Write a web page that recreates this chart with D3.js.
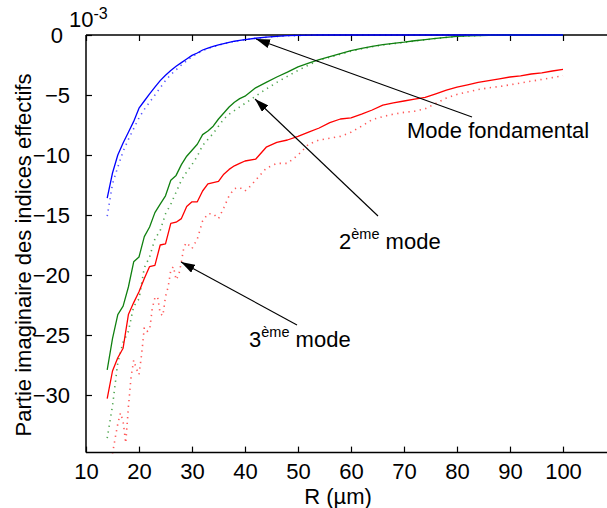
<!DOCTYPE html>
<html>
<head>
<meta charset="utf-8">
<script src="https://cdn.jsdelivr.net/npm/d3@7"></script>
<style>
  html, body { margin: 0; padding: 0; background: #fff; }
  svg { display: block; font-family: "Liberation Sans", Arial, sans-serif; }
</style>
</head>
<body>
<svg id="chart" width="607" height="508"></svg>
<script>
// ---------- DATA ----------
const R = [14,15,16,17,18,19,20,21,22,23,24,25,26,27,28,29,30,31,32,33,34,35,36,37,38,39,40,
           42,44,46,48,50,52,54,56,58,60,62,64,66,68,70,72,74,76,78,80,82,84,86,88,90,92,94,96,98,100];

const mode1Solid = [-13.6,-11.5,-10.0,-9.0,-8.1,-7.2,-6.1,-5.5,-4.9,-4.35,-3.8,-3.35,-2.95,-2.6,-2.3,-2.0,-1.7,-1.5,-1.25,-1.1,-0.95,-0.82,-0.72,-0.62,-0.52,-0.45,-0.38,
                    -0.27,-0.18,-0.11,-0.06,-0.03,-0.01,0,0,0,0,0,0,0,0,0,0,0,0,0,0,0,0,0,0,0,0,0,0,0,0];
const mode1Dotted = [-15.1,-12.4,-11.0,-9.7,-8.7,-7.8,-6.9,-6.2,-5.6,-5.0,-4.4,-3.8,-3.3,-2.9,-2.5,-2.15,-1.8,-1.55,-1.3,-1.13,-0.98,-0.85,-0.73,-0.62,-0.53,-0.46,-0.39,
                     -0.28,-0.19,-0.12,-0.07,-0.04,-0.02,0,0,0,0,0,0,0,0,0,0,0,0,0,0,0,0,0,0,0,0,0,0,0,0];

const mode2Solid = [-27.9,-25.3,-23.3,-22.6,-21.0,-18.9,-18.5,-16.8,-16.0,-14.8,-14.1,-13.4,-12.1,-11.7,-10.8,-10.1,-9.6,-9.1,-8.3,-8.0,-7.6,-7.0,-6.5,-6.0,-5.6,-5.3,-5.1,
                    -4.4,-3.95,-3.5,-3.1,-2.65,-2.35,-2.05,-1.8,-1.55,-1.3,-1.12,-0.95,-0.8,-0.7,-0.6,-0.48,-0.38,-0.28,-0.19,-0.12,-0.07,-0.04,-0.02,-0.01,0,0,0,0,0,0];
const mode2Dotted = [-33.6,-30.9,-27.3,-25.6,-24.7,-22.6,-22.0,-19.4,-18.5,-17.0,-16.3,-14.9,-14.1,-13.1,-12.1,-11.4,-10.8,-10.1,-9.2,-8.7,-8.2,-7.6,-7.0,-6.6,-6.3,-6.0,-5.7,
                     -5.1,-4.5,-3.95,-3.45,-2.95,-2.5,-2.1,-1.85,-1.6,-1.35,-1.15,-0.98,-0.83,-0.72,-0.62,-0.5,-0.4,-0.3,-0.2,-0.13,-0.08,-0.04,-0.02,-0.01,0,0,0,0,0,0];

const mode3Solid = [-30.3,-28.0,-26.9,-26.1,-23.3,-22.3,-21.4,-20.3,-19.3,-19.2,-17.5,-17.4,-15.7,-15.6,-15.3,-14.3,-13.9,-13.9,-13.0,-12.4,-12.3,-12.2,-11.6,-11.2,-10.9,-10.7,-10.5,
                    -10.35,-9.35,-8.95,-8.75,-8.45,-8.1,-7.75,-7.3,-7.0,-6.9,-6.6,-6.25,-5.85,-5.65,-5.5,-5.35,-5.2,-4.9,-4.6,-4.35,-4.15,-3.95,-3.8,-3.65,-3.5,-3.4,-3.25,-3.15,-3.0,-2.86];

const R3Dotted = [15,15.5,16,16.5,17,17.5,18,18.5,19,19.5,20,20.5,21,21.5,22,22.5,23,23.5,24,24.5,25,25.5,26,26.5,27,27.5,28,28.5,29,30,31,32,33,34,35,36,37,38,39,40,41,42,
                  44,46,48,50,52,54,56,58,60,62,64,66,68,70,72,74,76,78,80,82,84,86,88,90,92,94,96,98,100];
const mode3Dotted = [-34.9,-33.6,-32.4,-31.5,-32.2,-34.0,-31.0,-28.5,-27.1,-27.8,-28.3,-26.6,-24.4,-24.7,-24.6,-22.8,-21.9,-21.8,-23.2,-23.4,-21.8,-21.0,-19.6,-19.3,-20.4,-20.0,-18.9,-17.6,-17.3,-17.8,-17.0,-15.5,-14.9,-14.9,-15.3,-14.4,-13.4,-12.8,-12.7,-13.0,-12.6,-12.1,
                     -11.1,-10.7,-10.7,-10.0,-9.1,-8.75,-8.6,-8.45,-8.1,-7.6,-7.05,-6.8,-6.6,-6.45,-6.35,-6.15,-5.7,-5.25,-4.95,-4.75,-4.55,-4.4,-4.3,-4.15,-4.0,-3.85,-3.7,-3.55,-3.4];

const xTicks = [10,20,30,40,50,60,70,80,90,100];
const yTicks = [0,-5,-10,-15,-20,-25,-30];

const labelX = "R (µm)";
const labelY = "Partie imaginaire des indices effectifs";

// ---------- LAYOUT ----------
const svg = d3.select("#chart");
const mLeft = 86, mTop = 35, mBottom = 452.6, mRight = 616;
const x = d3.scaleLinear().domain([10, 110]).range([mLeft, mRight]);
const y = d3.scaleLinear().domain([0, -34.8]).range([mTop, mBottom]);

const fontSize = 22;
const supSize = 14.5;

const defs = svg.append("defs");
defs.append("clipPath").attr("id", "plotclip")
  .append("rect").attr("x", mLeft).attr("y", mTop - 2).attr("width", mRight - mLeft).attr("height", mBottom - mTop + 3);

const lineGen = (xs) => d3.line().x((d, i) => x(xs[i])).y(d => y(d));

const plot = svg.append("g").attr("clip-path", "url(#plotclip)");

function drawSeries(g, xs, ys, color, dotted) {
  const p = g.append("path")
    .attr("d", lineGen(xs)(ys))
    .attr("fill", "none")
    .attr("stroke", color)
    .attr("stroke-width", dotted ? 1.6 : 1.3)
    .attr("stroke-linejoin", "round");
  if (dotted) p.attr("stroke-dasharray", "1.3,4.4").attr("opacity", 0.75);
}

drawSeries(plot, R3Dotted, mode3Dotted, "#ff2020", true);
drawSeries(plot, R, mode2Dotted, "#1a8a1a", true);
drawSeries(plot, R, mode1Dotted, "#2020ff", true);
drawSeries(plot, R, mode3Solid, "#ff0000", false);

// ---------- AXES ----------
const tickLen = 6;
const xAxisB = d3.axisBottom(x).tickValues(xTicks).tickSizeInner(-tickLen).tickSizeOuter(0).tickPadding(11);
const xAxisT = d3.axisTop(x).tickValues(xTicks).tickSizeInner(-tickLen).tickSizeOuter(0).tickFormat("");
const yAxisL = d3.axisLeft(y).tickValues(yTicks).tickSizeInner(-tickLen).tickSizeOuter(0).tickPadding(16)
  .tickFormat(d => d3.format("d")(d));

function styleAxis(g) {
  g.select(".domain").remove();
  g.selectAll(".tick line").attr("stroke", "#000").attr("stroke-width", 1.2);
  g.selectAll(".tick text").attr("fill", "#000").attr("font-size", fontSize)
    .attr("font-family", '"Liberation Sans", Arial, sans-serif');
}

svg.append("g").attr("transform", `translate(0,${mBottom})`).call(xAxisB).call(styleAxis);
svg.append("g").attr("transform", `translate(0,${mTop})`).call(xAxisT).call(styleAxis);
const gy = svg.append("g").attr("transform", `translate(${mLeft},0)`).call(yAxisL).call(styleAxis);
// the "0" label sits slightly further left in the reference
gy.selectAll(".tick text").filter(d => d === 0).attr("dx", -7);

// frame lines
svg.append("line").attr("x1", mLeft).attr("x2", 607).attr("y1", mTop).attr("y2", mTop).attr("stroke", "#000").attr("stroke-width", 1.5);
svg.append("line").attr("x1", mLeft).attr("x2", 607).attr("y1", mBottom).attr("y2", mBottom).attr("stroke", "#000").attr("stroke-width", 1.5);
svg.append("line").attr("x1", mLeft).attr("x2", mLeft).attr("y1", mTop).attr("y2", mBottom).attr("stroke", "#000").attr("stroke-width", 1.5);

// green and blue solid curves drawn over the frame (they run along the top line)
const over = svg.append("g").attr("clip-path", "url(#plotclip)");
drawSeries(over, R, mode2Solid, "#108010", false);
drawSeries(over, R, mode1Solid, "#0000ff", false);

// exponent
const expo = svg.append("text").attr("x", 69).attr("y", 27).attr("font-size", fontSize).attr("fill", "#000");
expo.append("tspan").text("10");
expo.append("tspan").attr("font-size", 16).attr("dy", -8).text("-3");

// axis labels
svg.append("text").attr("x", 338).attr("y", 504).attr("text-anchor", "middle")
  .attr("font-size", fontSize).attr("fill", "#000").text(labelX);
svg.append("text").attr("transform", "translate(31,255) rotate(-90)").attr("text-anchor", "middle")
  .attr("font-size", fontSize).attr("fill", "#000").text(labelY);

// ---------- ANNOTATIONS ----------
defs.append("marker").attr("id", "arrow")
  .attr("viewBox", "0 0 14 9").attr("refX", 14).attr("refY", 4.5)
  .attr("markerWidth", 14).attr("markerHeight", 9).attr("markerUnits", "userSpaceOnUse")
  .attr("orient", "auto")
  .append("path").attr("d", "M0,0 L14,4.5 L0,9 Z").attr("fill", "#000");

const arrows = [
  {x1: 472, y1: 117, x2: 256, y2: 39},
  {x1: 378, y1: 216, x2: 255, y2: 99},
  {x1: 297, y1: 325, x2: 181, y2: 262}
];
arrows.forEach(a => {
  svg.append("line").attr("x1", a.x1).attr("y1", a.y1).attr("x2", a.x2).attr("y2", a.y2)
    .attr("stroke", "#000").attr("stroke-width", 1.1).attr("marker-end", "url(#arrow)");
});

svg.append("text").attr("x", 407).attr("y", 138).attr("font-size", fontSize).attr("fill", "#000").text("Mode fondamental");

function modeLabel(num, xPos, yPos) {
  const t = svg.append("text").attr("x", xPos).attr("y", yPos).attr("font-size", fontSize).attr("fill", "#000");
  t.append("tspan").text(num);
  t.append("tspan").attr("font-size", supSize).attr("dy", -10).text("ème");
  t.append("tspan").attr("dy", 10).text(" mode");
}
modeLabel("2", 339, 249);
modeLabel("3", 249, 347);
</script>
</body>
</html>
